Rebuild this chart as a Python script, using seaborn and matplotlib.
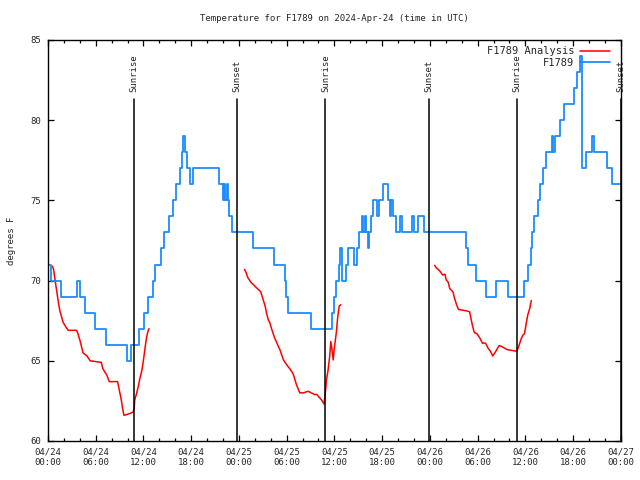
import pandas as pd
import seaborn as sns
import matplotlib
matplotlib.use("Agg")
import matplotlib.pyplot as plt
import matplotlib.dates as mdates
from matplotlib.lines import Line2D

# 観測値 (F1789) : 変化した時刻 [h] と温度 [F]
obs_hours = [0.00, 0.35, 1.60, 3.60, 4.05, 4.70, 5.90, 7.30, 9.95, 10.45,
             11.45, 12.10, 12.55, 13.25, 13.50, 14.25, 14.55, 15.25, 15.75, 16.15,
             16.55, 16.85, 17.00, 17.25, 17.45, 17.85, 18.20, 21.45, 21.95, 22.10,
             22.25, 22.45, 22.60, 22.80, 23.10, 25.80, 28.40, 29.75, 29.95, 30.15,
             33.05, 35.75, 35.95, 36.20, 36.55, 36.65, 36.90, 37.00, 37.40, 37.70,
             38.50, 38.90, 39.10, 39.50, 39.65, 39.85, 40.00, 40.20, 40.35, 40.55,
             40.80, 41.35, 41.60, 42.10, 42.70, 43.00, 43.15, 43.35, 43.70, 44.30,
             44.45, 45.70, 46.00, 46.55, 47.25, 52.55, 52.75, 53.75, 55.05, 56.30,
             57.80, 59.80, 60.30, 60.65, 60.90, 61.15, 61.55, 61.80, 62.20, 62.60,
             63.30, 63.50, 63.70, 64.35, 64.80, 66.10, 66.45, 66.90, 67.15, 67.60,
             68.35, 68.60, 70.30, 70.85, 72.00]
obs_temps = [71, 70, 69, 70, 69, 68, 67, 66, 65, 66,
             67, 68, 69, 70, 71, 72, 73, 74, 75, 76,
             77, 78, 79, 78, 77, 76, 77, 76, 75, 76,
             75, 76, 75, 74, 73, 72, 71, 70, 69, 68,
             67, 68, 69, 70, 71, 72, 71, 70, 71, 72,
             71, 72, 73, 74, 73, 74, 73, 72, 73, 74,
             75, 74, 75, 76, 75, 74, 75, 74, 73, 74,
             73, 74, 73, 74, 73, 72, 71, 70, 69, 70,
             69, 70, 71, 72, 73, 74, 75, 76, 77, 78,
             79, 78, 79, 80, 81, 82, 83, 84, 77, 78,
             79, 78, 77, 76, 76]

# 解析値 (F1789 Analysis) : 3 区間
ana_hours_1 = [0.55, 0.70, 0.90, 1.05, 1.20, 1.35, 1.50, 1.70, 1.90, 2.25,
               2.55, 3.60, 3.75, 4.00, 4.20, 4.40, 4.90, 5.30, 6.70, 6.90,
               7.40, 7.70, 8.75, 8.95, 9.20, 9.40, 9.55, 9.90, 10.20, 10.70,
               10.85, 10.90, 11.10, 11.35, 11.55, 11.80, 12.00, 12.20, 12.40, 12.60,
               12.70]
ana_temps_1 = [70.9, 70.7, 70.0, 69.5, 69.0, 68.5, 68.1, 67.75, 67.4, 67.1,
               66.9, 66.9, 66.7, 66.3, 65.9, 65.5, 65.3, 65.0, 64.9, 64.5,
               64.1, 63.7, 63.7, 63.2, 62.6, 61.95, 61.6, 61.65, 61.7, 61.8,
               62.1, 62.55, 62.9, 63.4, 63.9, 64.4, 65.05, 65.8, 66.5, 66.9,
               67.0]
ana_hours_2 = [24.70, 24.90, 25.10, 25.50, 26.10, 26.75, 27.05, 27.30, 27.50, 27.70,
               27.90, 28.10, 28.30, 28.50, 28.70, 28.90, 29.15, 29.35, 29.60, 30.00,
               30.40, 30.80, 31.00, 31.20, 31.40, 31.65, 32.10, 32.70, 33.10, 33.50,
               33.80, 33.95, 34.40, 34.70, 34.90, 35.00, 35.20, 35.40, 35.55, 35.70,
               35.85, 35.95, 36.10, 36.25, 36.40, 36.60, 36.80]
ana_temps_2 = [70.7, 70.5, 70.2, 69.9, 69.6, 69.3, 68.8, 68.4, 67.9, 67.55,
               67.35, 67.0, 66.7, 66.4, 66.2, 65.95, 65.7, 65.4, 65.05, 64.75,
               64.5, 64.2, 63.9, 63.55, 63.3, 63.0, 63.0, 63.1, 63.0, 62.9,
               62.9, 62.8, 62.55, 62.3, 63.2, 63.8, 64.4, 65.25, 66.2, 65.7,
               65.05, 65.6, 66.2, 66.8, 67.65, 68.4, 68.5]
ana_hours_3 = [48.60, 48.80, 49.25, 49.60, 49.90, 50.05, 50.30, 50.50, 50.70, 50.90,
               51.10, 51.35, 51.60, 52.20, 52.70, 53.00, 53.20, 53.40, 53.60, 53.90,
               54.30, 54.60, 55.00, 55.30, 55.60, 55.90, 56.30, 56.70, 57.00, 57.35,
               57.70, 58.25, 58.90, 59.10, 59.30, 59.50, 59.70, 59.90, 60.10, 60.30,
               60.55, 60.75]
ana_temps_3 = [70.95, 70.8, 70.6, 70.35, 70.4, 70.05, 69.9, 69.5, 69.4, 69.3,
               68.9, 68.5, 68.2, 68.15, 68.1, 68.05, 67.55, 67.1, 66.75, 66.7,
               66.4, 66.1, 66.1, 65.8, 65.6, 65.3, 65.6, 65.95, 65.9, 65.8,
               65.7, 65.65, 65.6, 65.8, 66.1, 66.4, 66.6, 66.7, 67.3, 67.85,
               68.25, 68.75]

# 日の出・日の入り [h]
sun_hours = [10.83, 23.78, 34.88, 47.90, 58.97, 72.0]
sun_labels = ["Sunrise", "Sunset", "Sunrise", "Sunset", "Sunrise", "Sunset"]

base = pd.Timestamp("2024-04-24 00:00")
red = "red"
blue = "#1a8cff"


def to_time(hours):
    return base + pd.to_timedelta(hours, unit="h")


obs_df = pd.DataFrame({"time": to_time(obs_hours), "temp": obs_temps})
ana_df = pd.concat([
    pd.DataFrame({"time": to_time(h), "temp": t, "seg": i})
    for i, (h, t) in enumerate([(ana_hours_1, ana_temps_1),
                                (ana_hours_2, ana_temps_2),
                                (ana_hours_3, ana_temps_3)])
], ignore_index=True)

sns.set_style("ticks")
plt.rcParams["font.family"] = ["DejaVu Sans Mono", "DejaVu Sans"]
fs = 6.5

fig, ax = plt.subplots(figsize=(6.4, 4.8), dpi=100)
fig.subplots_adjust(left=0.075, right=0.970, top=0.9167, bottom=0.0813)

sns.lineplot(data=ana_df, x="time", y="temp", units="seg", estimator=None,
             color=red, lw=1.1, legend=False, ax=ax)
sns.lineplot(data=obs_df, x="time", y="temp", estimator=None, drawstyle="steps-post",
             color=blue, lw=1.3, legend=False, ax=ax)

for h, lab in zip(sun_hours, sun_labels):
    t = to_time(h)
    ax.axvline(t, ymin=0, ymax=(81.3 - 60) / 25, color="black", lw=1.1)
    ax.text(t, 81.75, lab, rotation=90, ha="center", va="bottom", fontsize=fs)

ax.set_xlim(to_time(0), to_time(72))
ax.set_ylim(60, 85)
ax.set_yticks([60, 65, 70, 75, 80, 85])
ax.xaxis.set_major_locator(mdates.HourLocator(byhour=[0, 6, 12, 18]))
ax.xaxis.set_minor_locator(mdates.HourLocator(interval=2))
ax.xaxis.set_major_formatter(mdates.DateFormatter("%m/%d\n%H:%M"))
ax.tick_params(which="both", direction="in", top=True, right=True,
               labelsize=fs, color="black", width=0.9)
ax.tick_params(which="major", length=4.5, pad=5)
ax.tick_params(which="minor", length=2.5)
for s in ax.spines.values():
    s.set_color("black")
    s.set_linewidth(1.0)

ax.set_xlabel("")
ax.set_ylabel("degrees F", fontsize=fs, labelpad=10)
ax.set_title("Temperature for F1789 on 2024-Apr-24 (time in UTC)", fontsize=fs, pad=14)

handles = [Line2D([], [], color=red, lw=1.1), Line2D([], [], color=blue, lw=1.3)]
ax.legend(handles, ["F1789 Analysis", "F1789"], loc="upper right",
          bbox_to_anchor=(1 - 5 / 573, 1), frameon=False,
          markerfirst=False, fontsize=fs + 1, handlelength=2.8, handletextpad=0.6,
          labelspacing=0.15, borderaxespad=0.3, borderpad=0.3)

fig.savefig("out.png", dpi=100)
